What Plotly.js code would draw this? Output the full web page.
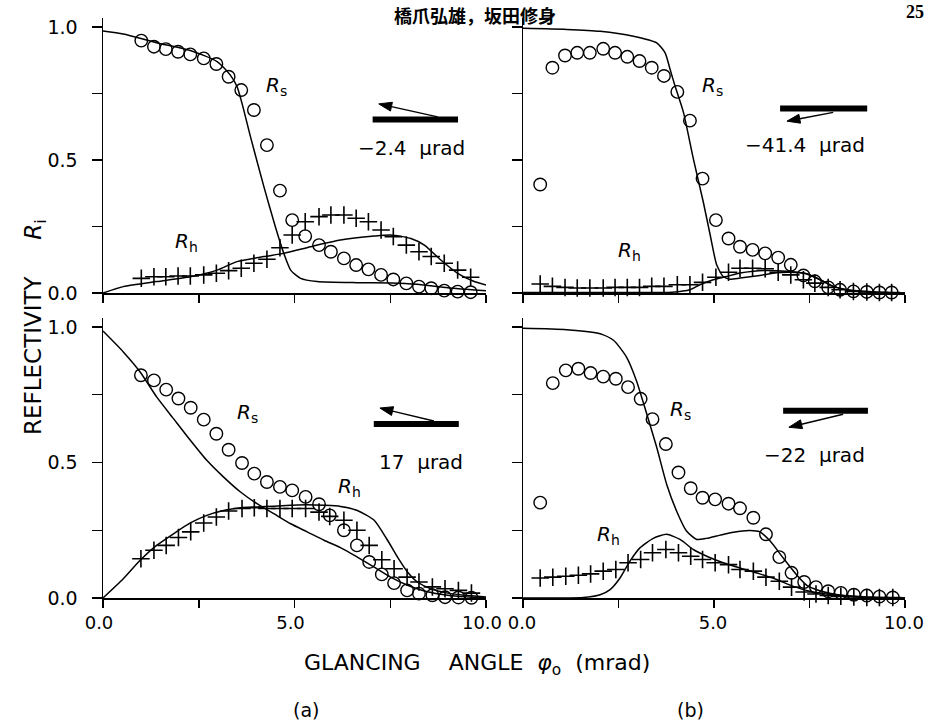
<!DOCTYPE html>
<html>
<head>
<meta charset="utf-8">
<script src="https://cdn.plot.ly/plotly-3.0.1.min.js"></script>
<style>html,body{margin:0;padding:0;background:#fff;}#chart{width:926px;height:726px;}</style>
</head>
<body>
<div id="chart"></div>
<script>
// ---------- tick labels ----------
const xTickVals = [0, 5, 10];
const xTickText = ['0.0', '5.0', '10.0'];
const yTickVals = [0, 0.5, 1.0];
const yTickText = ['0.0', '0.5', '1.0'];

// ---------- panel (a) top : -2.4 µrad ----------
const tlObsPhi = [1.00,1.33,1.64,1.96,2.28,2.63,2.96,3.28,3.61,3.94,4.28,4.62,4.94,5.28,5.64,5.95,6.29,6.61,6.93,7.26,7.58,7.92,8.25,8.57,8.91,9.26,9.60];
const tlObsRs  = [0.949,0.926,0.917,0.907,0.897,0.882,0.861,0.813,0.763,0.688,0.556,0.385,0.274,0.214,0.180,0.155,0.130,0.105,0.089,0.068,0.051,0.036,0.024,0.018,0.009,0.005,0.003];
const tlObsRh  = [0.055,0.061,0.061,0.064,0.064,0.068,0.074,0.084,0.093,0.112,0.127,0.170,0.218,0.268,0.287,0.293,0.293,0.281,0.268,0.237,0.212,0.180,0.155,0.137,0.112,0.086,0.059];
const tlCalcRsPhi = [0,0.53,1.40,2.28,2.98,3.32,3.50,3.63,3.85,4.20,4.50,4.72,4.90,5.16,5.59,6.64,7.51,8.20,9.00,10.0];
const tlCalcRs    = [0.985,0.974,0.941,0.912,0.870,0.820,0.776,0.713,0.588,0.400,0.249,0.149,0.086,0.055,0.043,0.039,0.038,0.033,0.020,0.008];
const tlCalcRhPhi = [0,0.53,1.40,2.28,2.98,3.50,4.20,4.72,5.42,6.20,7.08,7.51,8.04,8.39,8.82,9.26,9.69,10.0];
const tlCalcRh    = [0,0.024,0.043,0.061,0.086,0.118,0.137,0.149,0.174,0.199,0.214,0.218,0.205,0.180,0.124,0.074,0.043,0.030];

// ---------- panel (b) top : -41.4 µrad ----------
const trObsPhi = [0.45,0.77,1.10,1.42,1.75,2.10,2.41,2.73,3.05,3.37,3.69,4.04,4.37,4.70,5.05,5.38,5.68,6.01,6.34,6.68,7.01,7.34,7.64,7.99,8.30,8.65,9.00,9.33,9.65];
const trObsRs  = [0.408,0.847,0.893,0.903,0.903,0.918,0.903,0.888,0.872,0.847,0.816,0.756,0.648,0.430,0.274,0.205,0.174,0.162,0.149,0.133,0.106,0.066,0.044,0.021,0.012,0.006,0.004,0.002,0.002];
const trObsRh  = [0.034,0.025,0.021,0.019,0.019,0.019,0.021,0.021,0.021,0.025,0.025,0.031,0.031,0.040,0.059,0.078,0.093,0.093,0.091,0.078,0.068,0.050,0.037,0.021,0.012,0.006,0.004,0.002,0.002];
const trCalcRsPhi = [0,1.14,2.02,2.89,3.50,3.72,3.85,3.98,4.20,4.46,4.72,4.90,5.07,5.24,5.42,5.68,6.20,6.64,6.99,7.43,7.78,8.12,8.56,9.00,10.0];
const trCalcRs    = [0.995,0.991,0.984,0.965,0.940,0.903,0.841,0.778,0.679,0.504,0.342,0.218,0.106,0.062,0.052,0.056,0.066,0.076,0.078,0.072,0.050,0.025,0.009,0.004,0.0];
const trCalcRhPhi = [0,2.00,3.90,4.37,4.63,4.98,5.33,5.68,6.03,6.38,6.90,7.34,7.78,8.12,8.60,9.20,10.0];
const trCalcRh    = [0.002,0.002,0.003,0.012,0.031,0.050,0.062,0.075,0.082,0.085,0.082,0.075,0.050,0.025,0.010,0.004,0.0];

// ---------- panel (a) bottom : 17 µrad ----------
const blObsPhi = [0.99,1.33,1.65,1.97,2.29,2.63,2.96,3.28,3.63,3.95,4.28,4.62,4.94,5.29,5.64,5.92,6.29,6.63,6.95,7.28,7.60,7.94,8.25,8.60,8.93,9.28,9.62];
const blObsRs  = [0.822,0.803,0.769,0.736,0.702,0.658,0.606,0.547,0.498,0.459,0.428,0.410,0.397,0.373,0.346,0.305,0.250,0.194,0.133,0.087,0.055,0.028,0.016,0.010,0.003,0.002,0.001];
const blObsRh  = [0.145,0.176,0.194,0.223,0.244,0.277,0.299,0.321,0.330,0.333,0.330,0.330,0.330,0.330,0.317,0.301,0.287,0.250,0.194,0.141,0.108,0.077,0.059,0.041,0.034,0.028,0.018];
const blCalcRsPhi = [0,0.53,0.97,1.40,1.84,2.28,2.71,3.15,3.59,4.02,4.46,4.90,5.33,5.77,6.20,6.64,7.08,7.51,7.95,8.39,8.82,9.26,10.0];
const blCalcRs    = [0.985,0.908,0.834,0.742,0.662,0.582,0.508,0.446,0.391,0.348,0.311,0.274,0.244,0.213,0.186,0.151,0.114,0.077,0.047,0.026,0.014,0.006,0.0];
const blCalcRhPhi = [0,0.53,0.97,1.40,1.84,2.28,2.71,3.15,3.59,4.02,4.46,4.90,5.33,5.77,6.20,6.64,7.08,7.43,7.69,7.95,8.21,8.56,9.00,9.43,10.0];
const blCalcRh    = [0,0.071,0.139,0.194,0.237,0.277,0.305,0.323,0.333,0.336,0.339,0.342,0.344,0.342,0.338,0.323,0.287,0.213,0.151,0.096,0.059,0.034,0.018,0.010,0.004];

// ---------- panel (b) bottom : -22 µrad ----------
const brObsPhi = [0.45,0.78,1.12,1.45,1.77,2.10,2.43,2.75,3.08,3.39,3.74,4.07,4.39,4.70,5.03,5.38,5.68,6.03,6.36,6.71,7.03,7.36,7.67,7.99,8.32,8.66,9.00,9.33,9.68];
const brObsRs  = [0.352,0.793,0.840,0.846,0.830,0.817,0.809,0.778,0.735,0.660,0.568,0.463,0.405,0.370,0.364,0.348,0.331,0.296,0.235,0.151,0.093,0.059,0.040,0.025,0.019,0.012,0.009,0.005,0.002];
const brObsRh  = [0.074,0.077,0.080,0.084,0.089,0.099,0.105,0.130,0.142,0.167,0.179,0.167,0.154,0.142,0.130,0.123,0.105,0.099,0.077,0.062,0.040,0.022,0.015,0.009,0.006,0.004,0.002,0.002,0.002];
const brCalcRsPhi = [0,1.14,2.02,2.37,2.71,2.97,3.24,3.50,3.76,4.02,4.28,4.55,4.81,5.16,5.51,5.94,6.20,6.47,6.81,7.16,7.43,7.77,8.12,8.56,9.00,10.0];
const brCalcRs    = [0.995,0.990,0.975,0.951,0.889,0.802,0.679,0.556,0.420,0.321,0.247,0.216,0.220,0.232,0.243,0.249,0.244,0.210,0.148,0.086,0.047,0.027,0.015,0.006,0.002,0.0];
const brCalcRhPhi = [0,1.58,2.02,2.28,2.54,2.80,3.06,3.41,3.76,4.11,4.46,4.81,5.24,5.68,6.20,6.64,7.08,7.51,8.12,9.00,10.0];
const brCalcRh    = [0,0.002,0.012,0.031,0.074,0.136,0.185,0.220,0.235,0.216,0.179,0.154,0.130,0.111,0.089,0.068,0.043,0.025,0.012,0.004,0.0];

// ---------- panel labels ----------
const tiltLabels = ['\u22122.4\u00a0\u00a0\u03bcrad', '\u221241.4\u00a0\u00a0\u03bcrad', '17\u00a0\u00a0\u03bcrad', '\u221222\u00a0\u00a0\u03bcrad'];

// ---------- build ----------
const FONT = 'DejaVu Sans, Liberation Sans, Arial, sans-serif';
const W = 926, H = 726;
const YMAX = 1.035;
const xdL = [103/W, 486/W], xdR = [523/W, 905/W];
const ydT = [(H-293)/H, (H-17.7)/H], ydB = [(H-598)/H, (H-317.5)/H];

const panels = [
  {xa:'x',  ya:'y',  xd:xdL, yd:ydT, obsPhi:tlObsPhi, obsRs:tlObsRs, obsRh:tlObsRh, rsPhi:tlCalcRsPhi, rs:tlCalcRs, rhPhi:tlCalcRhPhi, rh:tlCalcRh,
   rsLbl:[4.53,0.778], rhLbl:[2.17,0.192], bar:[7.04,9.27,0.652], tail:[8.74,0.662], head:[7.20,0.711], txt:[8.06,0.545]},
  {xa:'x2', ya:'y2', xd:xdR, yd:ydT, obsPhi:trObsPhi, obsRs:trObsRs, obsRh:trObsRh, rsPhi:trCalcRsPhi, rs:trCalcRs, rhPhi:trCalcRhPhi, rh:trCalcRh,
   rsLbl:[4.97,0.780], rhLbl:[2.80,0.157], bar:[6.73,9.01,0.694], tail:[8.12,0.679], head:[6.91,0.646], txt:[7.38,0.556]},
  {xa:'x3', ya:'y3', xd:xdL, yd:ydB, obsPhi:blObsPhi, obsRs:blObsRs, obsRh:blObsRh, rsPhi:blCalcRsPhi, rs:blCalcRs, rhPhi:blCalcRhPhi, rh:blCalcRh,
   rsLbl:[3.77,0.683], rhLbl:[6.44,0.410], bar:[7.07,9.29,0.642], tail:[8.64,0.653], head:[7.23,0.701], txt:[8.30,0.502]},
  {xa:'x4', ya:'y4', xd:xdR, yd:ydB, obsPhi:brObsPhi, obsRs:brObsRs, obsRh:brObsRh, rsPhi:brCalcRsPhi, rs:brCalcRs, rhPhi:brCalcRhPhi, rh:brCalcRh,
   rsLbl:[4.11,0.693], rhLbl:[2.23,0.233], bar:[6.81,9.03,0.691], tail:[8.38,0.678], head:[6.96,0.630], txt:[7.62,0.526]}
];

const traces = [];
const annotations = [];
const shapes = [];
const lblFont = {family:FONT, size:20, color:'#000'};

panels.forEach((p, i) => {
  const lineStyle = {color:'#000', width:1.5, shape:'spline', smoothing:0.6};
  traces.push({type:'scatter', mode:'lines', x:p.rsPhi, y:p.rs, xaxis:p.xa, yaxis:p.ya, line:lineStyle, hoverinfo:'skip', cliponaxis:false});
  traces.push({type:'scatter', mode:'lines', x:p.rhPhi, y:p.rh, xaxis:p.xa, yaxis:p.ya, line:lineStyle, hoverinfo:'skip', cliponaxis:false});
  traces.push({type:'scatter', mode:'markers', x:p.obsPhi, y:p.obsRs, xaxis:p.xa, yaxis:p.ya, cliponaxis:false,
    marker:{symbol:'circle-open', size:12.5, color:'#000', line:{width:1.4, color:'#000'}}});
  traces.push({type:'scatter', mode:'markers', x:p.obsPhi, y:p.obsRh, xaxis:p.xa, yaxis:p.ya, cliponaxis:false,
    marker:{symbol:'cross-thin-open', size:12.5, color:'#000', line:{width:1.6, color:'#000'}}});

  annotations.push({xref:p.xa, yref:p.ya, x:p.rsLbl[0], y:p.rsLbl[1], text:'<i>R</i><sub>s</sub>', showarrow:false, font:lblFont});
  annotations.push({xref:p.xa, yref:p.ya, x:p.rhLbl[0], y:p.rhLbl[1], text:'<i>R</i><sub>h</sub>', showarrow:false, font:lblFont});
  annotations.push({xref:p.xa, yref:p.ya, x:p.txt[0], y:p.txt[1], text:tiltLabels[i], showarrow:false, font:{family:FONT, size:20, color:'#000'}});

  // mirror bar
  shapes.push({type:'line', xref:p.xa, yref:p.ya, x0:p.bar[0], x1:p.bar[1], y0:p.bar[2], y1:p.bar[2], line:{color:'#000', width:6}});
  // beam arrow (line + filled head), geometry done in pixel space
  const sx = (p.xd[1]-p.xd[0])*W/10, sy = (p.yd[1]-p.yd[0])*H/YMAX;
  const dxp = (p.tail[0]-p.head[0])*sx, dyp = (p.tail[1]-p.head[1])*sy;
  const len = Math.hypot(dxp, dyp), ux = dxp/len, uy = dyp/len;
  const HL = 13, HW = 4.5;
  const bx = ux*HL, by = uy*HL;
  const toD = (px, py) => [p.head[0] + px/sx, p.head[1] + py/sy];
  const b = toD(bx, by), c1 = toD(bx - uy*HW, by + ux*HW), c2 = toD(bx + uy*HW, by - ux*HW);
  shapes.push({type:'line', xref:p.xa, yref:p.ya, x0:p.tail[0], y0:p.tail[1], x1:b[0], y1:b[1], line:{color:'#000', width:1.4}});
  shapes.push({type:'path', xref:p.xa, yref:p.ya,
    path:'M'+p.head[0]+','+p.head[1]+' L'+c1[0]+','+c1[1]+' L'+c2[0]+','+c2[1]+' Z',
    fillcolor:'#000', line:{color:'#000', width:1}});
});

function xAxis(domain, anchor, labels, shift) {
  return {domain:domain, anchor:anchor, range:[0,10], showline:true, linecolor:'#000', linewidth:1.5,
    ticks:'outside', ticklen:8, tickwidth:1.5, tickcolor:'#000', tickmode:'array', tickvals:xTickVals, ticktext:xTickText,
    minor:{tickmode:'linear', tick0:0, dtick:2.5, ticks:'outside', ticklen:8, tickwidth:1.5, tickcolor:'#000', showgrid:false},
    showticklabels:labels, ticklabelshift:shift||0, ticklabeloverflow:'allow', tickfont:{family:FONT, size:18, color:'#000'},
    showgrid:false, zeroline:false, fixedrange:true};
}
function yAxis(domain, anchor, labels) {
  return {domain:domain, anchor:anchor, range:[0,YMAX], showline:true, linecolor:'#000', linewidth:1.5,
    ticks:'outside', ticklen:10, tickwidth:1.5, tickcolor:'#000', tickmode:'array', tickvals:yTickVals, ticktext:yTickText,
    minor:{tickmode:'linear', tick0:0, dtick:0.25, ticks:'outside', ticklen:10, tickwidth:1.5, tickcolor:'#000', showgrid:false},
    showticklabels:labels, ticklabelstandoff:10, tickfont:{family:FONT, size:19, color:'#000'},
    showgrid:false, zeroline:false, fixedrange:true};
}

// axis titles, panel letters, page header
annotations.push({xref:'paper', yref:'paper', x:18/W, y:(H-327)/H, textangle:-90,
  text:'REFLECTIVITY\u00a0\u00a0\u00a0\u00a0\u00a0<i>R</i><sub>i</sub>', showarrow:false, font:{family:FONT, size:23, color:'#000'}});
annotations.push({xref:'paper', yref:'paper', x:477/W, y:(H-664)/H, yanchor:'middle',
  text:'GLANCING\u00a0\u00a0\u00a0\u00a0ANGLE\u00a0\u00a0<i>\u03c6</i><sub>o</sub>\u00a0\u00a0(mrad)', showarrow:false, font:{family:FONT, size:22, color:'#000'}});
annotations.push({xref:'paper', yref:'paper', x:291/W, y:(H-710)/H, yanchor:'middle', text:'(a)', showarrow:false, font:{family:FONT, size:19, color:'#000'}});
annotations.push({xref:'paper', yref:'paper', x:706/W, y:(H-710)/H, yanchor:'middle', text:'(b)', showarrow:false, font:{family:FONT, size:19, color:'#000'}});
annotations.push({xref:'paper', yref:'paper', x:475/W, y:1, yanchor:'top', text:'<b>橋爪弘雄，坂田修身</b>', showarrow:false,
  font:{family:'Noto Sans CJK JP, Noto Sans CJK SC, sans-serif', size:18, color:'#000'}});
annotations.push({xref:'paper', yref:'paper', x:1, xanchor:'right', y:1, yanchor:'top', text:'<b>25</b>', showarrow:false,
  font:{family:'Liberation Serif, DejaVu Serif, serif', size:18, color:'#000'}});

const layout = {
  width:W, height:H, margin:{l:0, r:0, t:0, b:0}, paper_bgcolor:'#fff', plot_bgcolor:'#fff', showlegend:false,
  xaxis:  xAxis(xdL, 'y',  false),
  xaxis2: xAxis(xdR, 'y2', false),
  xaxis3: xAxis(xdL, 'y3', true, -4),
  xaxis4: xAxis(xdR, 'y4', true, -1),
  yaxis:  yAxis(ydT, 'x',  true),
  yaxis2: yAxis(ydT, 'x2', false),
  yaxis3: yAxis(ydB, 'x3', true),
  yaxis4: yAxis(ydB, 'x4', false),
  annotations:annotations, shapes:shapes
};

Plotly.newPlot('chart', traces, layout, {staticPlot:true, displayModeBar:false});
</script>
</body>
</html>
